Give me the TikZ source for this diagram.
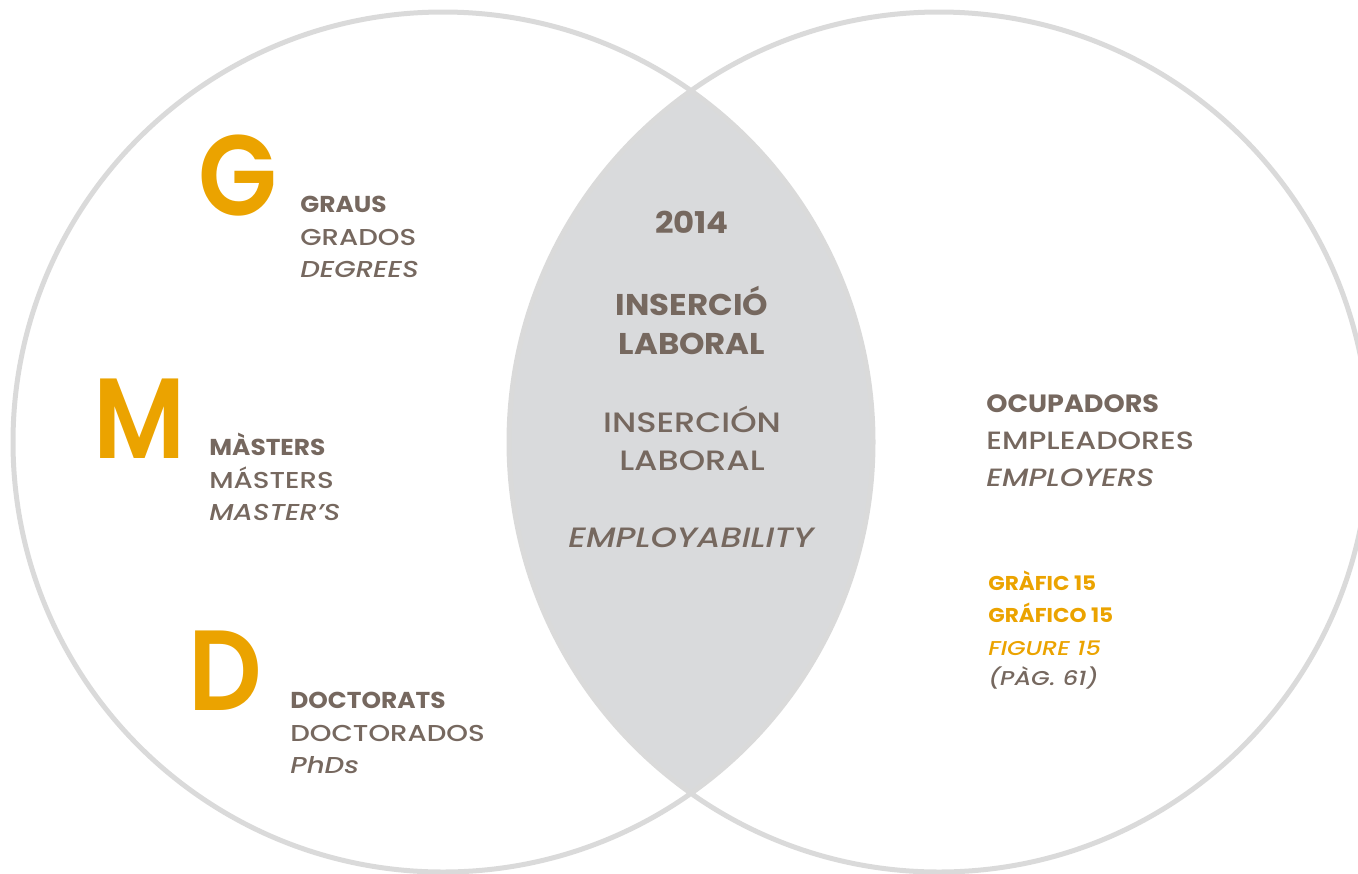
\documentclass[tikz,border=0pt]{standalone}
\usepackage{fontspec}
\setmainfont{Poppins}[UprightFont=* Medium, BoldFont=* Bold,
  ItalicFont=* Medium Italic, BoldItalicFont=* Bold Italic,
  FakeStretch=1.2, BoldFeatures={FakeStretch=1.08}]
\newfontfamily\initfont{Poppins}[UprightFont=* SemiBold, FakeStretch=0.9]
\definecolor{txt}{HTML}{76685F}
\definecolor{gold}{HTML}{EBA300}
\definecolor{ring}{HTML}{DADADA}
\definecolor{lens}{HTML}{D9DADC}
\begin{document}
\begin{tikzpicture}[x=0.5pt,y=-0.5pt,
    lbl/.style={text=txt,inner sep=0pt,anchor=base west,font=\fontsize{11.5}{14}\selectfont},
    mid/.style={text=txt,inner sep=0pt,anchor=base,font=\fontsize{14}{17}\selectfont},
    midb/.style={mid,font=\fontsize{15}{18}\selectfont\bfseries},
    side/.style={text=txt,inner sep=0pt,anchor=base west,font=\fontsize{12.5}{15}\selectfont},
    fig/.style={text=gold,inner sep=0pt,anchor=base west,font=\fontsize{10}{12}\selectfont},
    big/.style={text=gold,inner sep=0pt,anchor=base west,font=\initfont\fontsize{57}{60}\selectfont}]
  \useasboundingbox (0,0) rectangle (1358,873);
  \coordinate (cl) at (443,442);
  \coordinate (cr) at (939,442);
  \begin{scope}
    \clip (cl) circle [radius=215pt];
    \fill[lens] (cr) circle [radius=215pt];
  \end{scope}
  \draw[ring,line width=2.5pt] (cl) circle [radius=215pt] (cr) circle [radius=215pt];
  % left circle
  \node[big] (g) at (198,215) {G};
  \node[lbl] (graus) at (300,212) {\textbf{GRAUS}};
  \node[lbl] (grados) at (300,245) {GRADOS};
  \node[lbl] (degrees) at (300,277) {\textit{DEGREES}};
  \node[big] (m) at (93,458) {M};
  \node[lbl] (masters) at (209,455) {\textbf{MÀSTERS}};
  \node[lbl] (masteres) at (209,488) {MÁSTERS};
  \node[lbl] (mastersen) at (209,520) {\textit{MASTER’S}};
  \node[big] (d) at (188,710) {D};
  \node[lbl] (doctorats) at (290,708) {\textbf{DOCTORATS}};
  \node[lbl] (doctorados) at (290,741) {DOCTORADOS};
  \node[lbl] (phds) at (290,773) {\textit{PhDs}};
  % lens
  \node[midb] (year) at (692,233) {2014};
  \node[midb] (insca) at (692,315) {INSERCIÓ};
  \node[midb] (labca) at (692,354) {LABORAL};
  \node[mid] (inses) at (692,432) {INSERCIÓN};
  \node[mid] (labes) at (692,470) {LABORAL};
  \node[mid] (employ) at (692,547) {\textit{EMPLOYABILITY}};
  % right circle
  \node[side] (ocup) at (986,412) {\textbf{OCUPADORS}};
  \node[side] (empl) at (986,449) {EMPLEADORES};
  \node[side] (emplen) at (986,486) {\textit{EMPLOYERS}};
  \node[fig] (grafic) at (988,590) {\textbf{GRÀFIC 15}};
  \node[fig] (grafico) at (988,622) {\textbf{GRÁFICO 15}};
  \node[fig] (figure) at (988,655) {\textit{FIGURE 15}};
  \node[fig,text=txt] (pag) at (988,685) {\textit{(PÀG. 61)}};
\end{tikzpicture}
\end{document}
